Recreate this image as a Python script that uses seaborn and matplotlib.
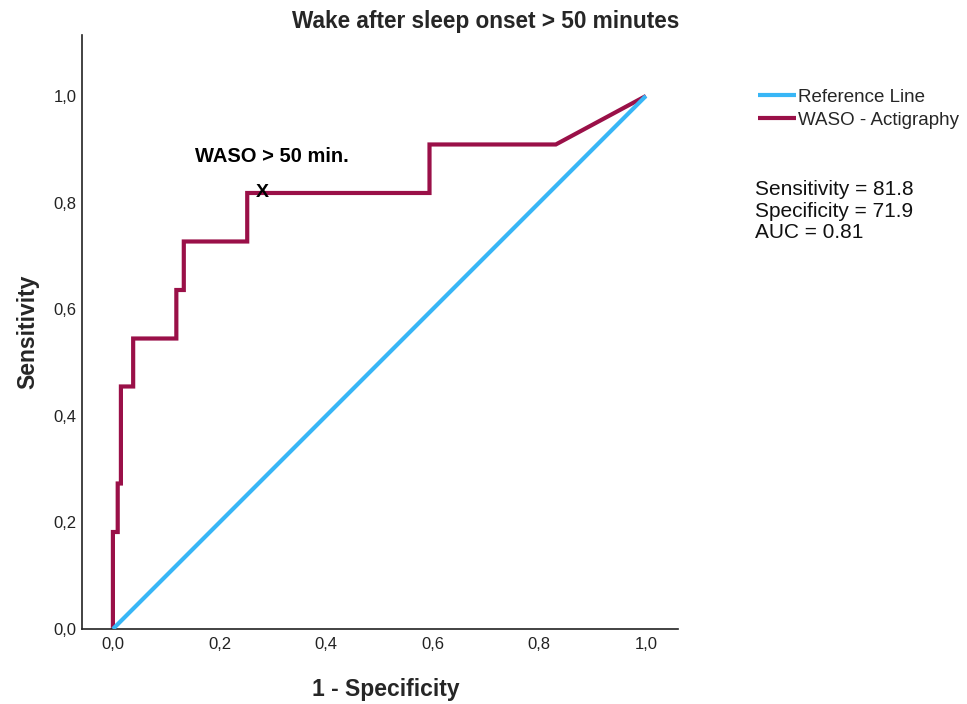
import matplotlib
matplotlib.use("Agg")
import matplotlib.pyplot as plt
import seaborn as sns
import pandas as pd

# Data
fpr = [0.0, 0.0, 0.009, 0.009, 0.015, 0.015, 0.038, 0.038, 0.119, 0.119,
       0.133, 0.133, 0.252, 0.252, 0.594, 0.594, 0.831, 1.0]
tpr = [0.0, 0.182, 0.182, 0.273, 0.273, 0.455, 0.455, 0.545, 0.545, 0.636,
       0.636, 0.727, 0.727, 0.818, 0.818, 0.909, 0.909, 1.0]
ref_x = [0.0, 1.0]
ref_y = [0.0, 1.0]
cut_x, cut_y = 0.281, 0.818
series_names = ["Reference Line", "WASO - Actigraphy"]
tick_vals = [0.0, 0.2, 0.4, 0.6, 0.8, 1.0]
tick_labels = ["0,0", "0,2", "0,4", "0,6", "0,8", "1,0"]
stats_text = ["Sensitivity = 81.8", "Specificity = 71.9", "AUC = 0.81"]

sns.set_theme(style="white")
plt.rcParams['font.family'] = ['Liberation Sans', 'DejaVu Sans']

blue = "#38b6f6"
maroon = "#9a1048"

fig = plt.figure(figsize=(9.67, 7.04), dpi=100)
ax = fig.add_axes([0.0848, 0.1065, 0.701 - 0.0848, 0.950 - 0.1065])

df_curve = pd.DataFrame({"x": fpr, "y": tpr})
df_ref = pd.DataFrame({"x": ref_x, "y": ref_y})

sns.lineplot(data=df_curve, x="x", y="y", sort=False, estimator=None, ax=ax,
             color=maroon, linewidth=3.0, solid_joinstyle="miter",
             solid_capstyle="butt", label=series_names[1], zorder=2)
sns.lineplot(data=df_ref, x="x", y="y", sort=False, estimator=None, ax=ax,
             color=blue, linewidth=3.0, solid_capstyle="butt",
             label=series_names[0], zorder=3)

ax.text(cut_x, cut_y, "X", ha="center", va="center", fontsize=14,
        fontweight="bold", color="black", zorder=4)
ax.text(0.298, 0.886, "WASO > 50 min.", ha="center", va="center",
        fontsize=14.5, fontweight="bold", color="black")

ax.set_xlim(-0.058, 1.06)
ax.set_ylim(0.0, 1.114)
ax.set_xticks(tick_vals)
ax.set_xticklabels(tick_labels)
ax.set_yticks(tick_vals)
ax.set_yticklabels(tick_labels)
ax.tick_params(axis="both", which="both", length=0, labelsize=12,
               colors="#222222")
ax.tick_params(axis="y", pad=4)
ax.tick_params(axis="x", pad=6)

for s in ["top", "right"]:
    ax.spines[s].set_visible(False)
for s in ["left", "bottom"]:
    ax.spines[s].set_color("#222222")
    ax.spines[s].set_linewidth(1.2)

ax.set_xlabel("1 - Specificity", fontsize=16.5, fontweight="bold", labelpad=16)
ax.xaxis.set_label_coords(0.51, -0.083)
ax.set_ylabel("Sensitivity", fontsize=16.5, fontweight="bold", labelpad=10)
fig.text(0.5026, 0.970, "Wake after sleep onset > 50 minutes", ha="center",
         va="center", fontsize=16.3, fontweight="bold")

handles, labels = ax.get_legend_handles_labels()
order = [labels.index(series_names[0]), labels.index(series_names[1])]
leg = ax.legend([handles[i] for i in order], [labels[i] for i in order],
                loc="upper left", bbox_to_anchor=(0.784, 0.874),
                bbox_transform=fig.transFigure, frameon=False,
                fontsize=13.5, handlelength=2.0, handletextpad=0.1,
                labelspacing=0.3, borderaxespad=0, borderpad=0)
for line in leg.get_lines():
    line.set_linewidth(3.0)

fig.text(0.781, 0.700, "\n".join(stats_text), ha="left", va="center",
         fontsize=15, linespacing=1.18, color="#111111")

fig.savefig("out.png", dpi=100)
